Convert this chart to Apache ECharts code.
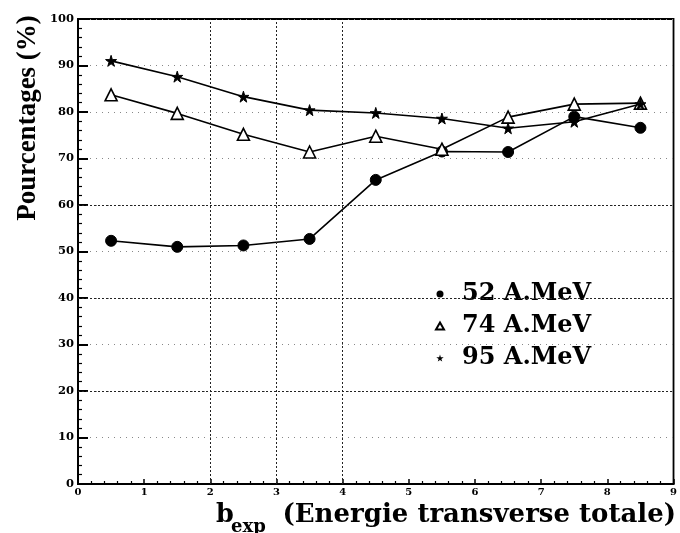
<!DOCTYPE html>
<html>
<head>
<meta charset="utf-8">
<script src="https://cdn.jsdelivr.net/npm/echarts@6/dist/echarts.min.js"></script>
<style>html,body{margin:0;padding:0;background:#fff;}#c{width:680px;height:533px;}</style>
</head>
<body>
<div id="c"></div>
<script>
const xValues = [0.5, 1.5, 2.5, 3.5, 4.5, 5.5, 6.5, 7.5, 8.5];
const s52 = [52.3, 51.0, 51.3, 52.7, 65.4, 71.5, 71.4, 79.0, 76.6];
const s74 = [83.7, 79.7, 75.2, 71.4, 74.8, 72.0, 78.9, 81.7, 81.9];
const s95 = [91.0, 87.6, 83.3, 80.4, 79.8, 78.6, 76.5, 77.9, 81.7];
const seriesNames = ['52 A.MeV', '74 A.MeV', '95 A.MeV'];
const vGridLines = [2, 3, 4];
const hGridLines = [20, 40, 60];

const STAR = 'path://M50,0 L61,35 L98,35 L68,57 L79,91 L50,70 L21,91 L32,57 L2,35 L39,35 Z';
const pairs = arr => xValues.map((x, i) => [x, arr[i]]);
const serif = 'DejaVu Serif';

const chart = echarts.init(document.getElementById('c'), null, {renderer: 'canvas'});
chart.setOption({
  animation: false,
  backgroundColor: '#fff',
  grid: {left: 78, right: 6, top: 19, bottom: 49, show: true, borderColor: '#000', borderWidth: 1.8},
  xAxis: {
    type: 'value', min: 0, max: 9, interval: 1,
    axisLine: {show: true, onZero: false, lineStyle: {color: '#000', width: 2}},
    axisTick: {show: true, inside: true, length: 5, lineStyle: {color: '#000', width: 1.5}},
    minorTick: {show: true, splitNumber: 5, length: 3, lineStyle: {color: '#000', width: 1.2}},
    axisLabel: {color: '#000', fontFamily: serif, fontWeight: 'bold', fontSize: 10, margin: 3},
    splitLine: {show: false}
  },
  yAxis: {
    type: 'value', min: 0, max: 100, interval: 10,
    axisLine: {show: true, onZero: false, lineStyle: {color: '#000', width: 2}},
    axisTick: {show: true, inside: true, length: 10, lineStyle: {color: '#000', width: 2}},
    minorTick: {show: true, splitNumber: 5, length: 4, lineStyle: {color: '#000', width: 1.2}},
    axisLabel: {color: '#000', fontFamily: serif, fontWeight: 'bold', fontSize: 11.5, margin: 4},
    splitLine: {show: true, lineStyle: {color: '#888', width: 1, type: [1, 5]}}
  },
  legend: {
    orient: 'vertical', left: 430, top: 277, itemGap: 8,
    itemWidth: 8, itemHeight: 7,
    textStyle: {color: '#000', fontFamily: serif, fontWeight: 'bold', fontSize: 24, lineHeight: 24, padding: [0, 0, 0, 13]},
    data: [
      {name: seriesNames[0], icon: 'circle'},
      {name: seriesNames[1], icon: 'triangle'},
      {name: seriesNames[2], icon: STAR}
    ]
  },
  series: [
    {
      name: seriesNames[0], type: 'line', data: pairs(s52),
      symbol: 'circle', symbolSize: 11,
      lineStyle: {color: '#000', width: 1.6},
      itemStyle: {color: '#000', borderColor: '#000'},
      markLine: {
        silent: true, symbol: 'none', label: {show: false},
        lineStyle: {color: '#222', width: 1, type: [2, 2]},
        data: vGridLines.map(v => ({xAxis: v})).concat(hGridLines.map(v => ({yAxis: v})))
      },
      z: 3
    },
    {
      name: seriesNames[1], type: 'line', data: pairs(s74),
      symbol: 'triangle', symbolSize: 12,
      lineStyle: {color: '#000', width: 1.6},
      itemStyle: {color: '#fff', borderColor: '#000', borderWidth: 1.6},
      z: 4
    },
    {
      name: seriesNames[2], type: 'line', data: pairs(s95),
      symbol: STAR, symbolSize: 11,
      lineStyle: {color: '#000', width: 1.6},
      itemStyle: {color: '#000', borderColor: '#000'},
      z: 5
    }
  ],
  graphic: [
    {
      type: 'text', x: 28, y: 118, rotation: Math.PI / 2,
      style: {text: 'Pourcentages (%)', fill: '#000', font: 'bold 27px "Liberation Serif"', textAlign: 'center', textVerticalAlign: 'middle'}
    },
    {
      type: 'text', x: 216, y: 515,
      style: {text: 'b', fill: '#000', font: 'bold 25.5px "DejaVu Serif"', textAlign: 'left', textVerticalAlign: 'middle'}
    },
    {
      type: 'text', x: 231, y: 527,
      style: {text: 'exp', fill: '#000', font: 'bold 18px "DejaVu Serif"', textAlign: 'left', textVerticalAlign: 'middle'}
    },
    {
      type: 'text', x: 676, y: 515,
      style: {text: '(Energie transverse totale)', fill: '#000', font: 'bold 26px "DejaVu Serif"', textAlign: 'right', textVerticalAlign: 'middle'}
    }
  ]
});
</script>
</body>
</html>
